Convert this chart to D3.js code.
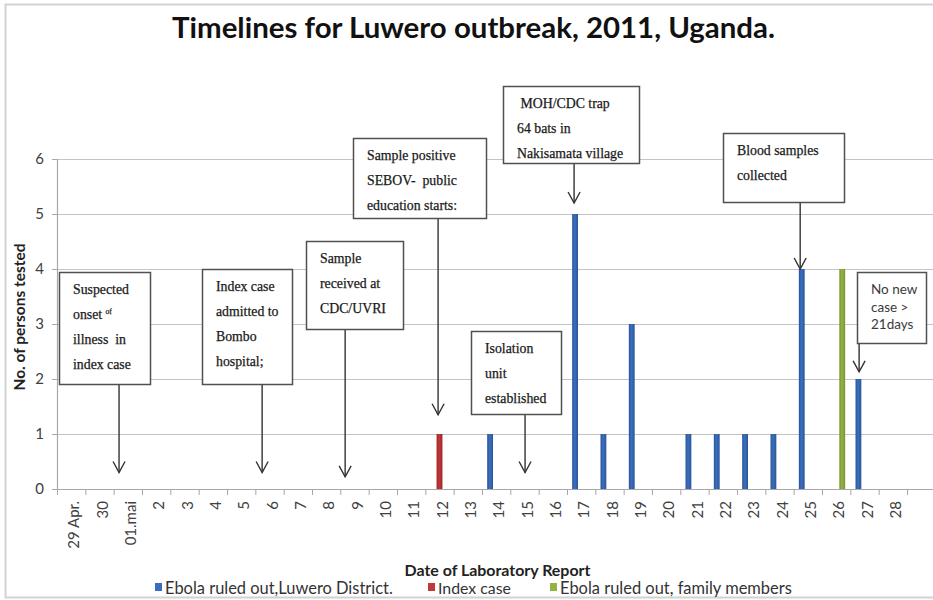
<!DOCTYPE html>
<html>
<head>
<meta charset="utf-8">
<script src="https://cdn.jsdelivr.net/npm/d3@7"></script>
<style>
  body { margin: 0; background: #fff; }
  svg { display: block; }
</style>
</head>
<body>
<svg id="chart" width="933" height="600"></svg>
<script>
// ---- data -------------------------------------------------------------
const dates = ["29 Apr.", "30", "01.mai", "2", "3", "4", "5", "6", "7", "8", "9", "10",
  "11", "12", "13", "14", "15", "16", "17", "18", "19", "20", "21", "22", "23", "24",
  "25", "26", "27", "28"];

// persons tested per laboratory report date
const ruledOutLuwero = [0, 0, 0, 0, 0, 0, 0, 0, 0, 0, 0, 0, 0, 0, 0, 1, 0, 0, 5, 1, 3, 0, 1, 1, 1, 1, 4, 0, 2, 0];
const indexCase      = [0, 0, 0, 0, 0, 0, 0, 0, 0, 0, 0, 0, 0, 1, 0, 0, 0, 0, 0, 0, 0, 0, 0, 0, 0, 0, 0, 0, 0, 0];
const familyMembers  = [0, 0, 0, 0, 0, 0, 0, 0, 0, 0, 0, 0, 0, 0, 0, 0, 0, 0, 0, 0, 0, 0, 0, 0, 0, 0, 0, 4, 0, 0];

const seriesNames = ["Ebola ruled out,Luwero District.", "Index case", "Ebola ruled out, family members"];
const yTicks = [0, 1, 2, 3, 4, 5, 6];

// timeline events: date pointed at, fraction across that date's slot, value the arrow reaches
const events = [
  { date: "01.mai", frac: 0.19, value: 0.3,  lines: ["Suspected", "onset ^of", "illness  in", "index case"] },
  { date: "6",      frac: 0.24, value: 0.3,  lines: ["Index case", "admitted to", "Bombo", "hospital;"] },
  { date: "9",      frac: 0.17, value: 0.22, lines: ["Sample", "received at", "CDC/UVRI"] },
  { date: "12",     frac: 0.45, value: 1.35, lines: ["Sample positive", "SEBOV-  public", "education starts:"] },
  { date: "17",     frac: 0.25, value: 5.2,  lines: [" MOH/CDC trap", "64 bats in", "Nakisamata village"] },
  { date: "15",     frac: 0.52, value: 0.3,  lines: ["Isolation", "unit", "established"] },
  { date: "25",     frac: 0.23, value: 4.0,  lines: ["Blood samples", "collected"] },
  { date: "27",     frac: 0.31, value: 2.13, lines: ["No new", "case >", "21days"] }
];

// ---- layout & styles --------------------------------------------------
const plot = { left: 57, right: 907, top: 159, bottom: 489, gridEnd: 933 };
const colors = ["#3a6fbf", "#c0393b", "#93b443"];
const darkColors = ["#2a5598", "#9e2326", "#769433"];
const calloutBoxes = [
  { x: 59,  y: 272, w: 91,  h: 112 },
  { x: 202, y: 269, w: 90,  h: 115 },
  { x: 306, y: 241, w: 97,  h: 88 },
  { x: 353, y: 138, w: 133, h: 80 },
  { x: 503, y: 86,  w: 136, h: 77 },
  { x: 471, y: 331, w: 90,  h: 83 },
  { x: 723, y: 133, w: 121, h: 69 },
  { x: 857, y: 272, w: 69,  h: 71, sans: true }
];
const sansFont = "Lato, 'Open Sans', 'DejaVu Sans', sans-serif";
const serifFont = "'Liberation Serif', 'DejaVu Serif', serif";

const svg = d3.select("#chart");

// scale text so that it spans a given width
function fitWidth(sel, width) {
  const fs = parseFloat(sel.attr("font-size"));
  const w = sel.node().getComputedTextLength();
  sel.attr("font-size", (fs * width / w).toFixed(2));
  return sel;
}

// outer frame
svg.append("path")
  .attr("d", "M945,4.5 H5.5 V597.5 H945")
  .attr("fill", "none").attr("stroke", "#d2d2d2").attr("stroke-width", 2);

// ---- scales -----------------------------------------------------------
const x = d3.scaleBand().domain(dates).range([plot.left, plot.right]).paddingInner(0).paddingOuter(0);
const bw = x.bandwidth();
const xSub = d3.scaleBand().domain(seriesNames)
  .range([bw / 2 - 9, bw / 2 + 9]).paddingInner(0.04);
const y = d3.scaleLinear().domain([0, 6]).range([plot.bottom, plot.top]);

// gradients for the bar fills
const defs = svg.append("defs");
colors.forEach((c, i) => {
  const g = defs.append("linearGradient").attr("id", "grad" + i)
    .attr("x1", "0").attr("x2", "1").attr("y1", "0").attr("y2", "0");
  g.append("stop").attr("offset", "0").attr("stop-color", darkColors[i]);
  g.append("stop").attr("offset", "0.45").attr("stop-color", c);
  g.append("stop").attr("offset", "1").attr("stop-color", darkColors[i]);
});

// ---- gridlines & axes -------------------------------------------------
svg.append("g").selectAll("line").data(yTicks.filter(d => d > 0)).join("line")
  .attr("x1", plot.left).attr("x2", plot.gridEnd)
  .attr("y1", d => y(d) + 0.5).attr("y2", d => y(d) + 0.5)
  .attr("stroke", "#c4c4c4").attr("stroke-width", 1.2);

const yAxis = svg.append("g").attr("transform", `translate(${plot.left},0)`)
  .call(d3.axisLeft(y).tickValues(yTicks).tickSize(5).tickPadding(8).tickFormat(d3.format("d")));
yAxis.select(".domain").attr("stroke", "#a8a8a8").attr("stroke-width", 1.2);
yAxis.selectAll(".tick line").attr("stroke", "#a8a8a8");
yAxis.selectAll(".tick text").attr("font-family", sansFont).attr("font-size", 15).attr("fill", "#404040");

// x axis baseline across the full width
svg.append("line").attr("x1", plot.left).attr("x2", plot.gridEnd)
  .attr("y1", y(0) + 0.5).attr("y2", y(0) + 0.5)
  .attr("stroke", "#a8a8a8").attr("stroke-width", 1.2);

// tick marks at slot boundaries
const bounds = dates.map(d => x(d)).concat([x(dates[dates.length - 1]) + bw]);
svg.append("g").selectAll("line").data(bounds).join("line")
  .attr("x1", d => d + 0.5).attr("x2", d => d + 0.5)
  .attr("y1", y(0)).attr("y2", y(0) + 6)
  .attr("stroke", "#a8a8a8");

// rotated date labels
svg.append("g").selectAll("text").data(dates).join("text")
  .attr("transform", d => `translate(${x(d) + bw / 2 + 3},${y(0) + 12}) rotate(-90)`)
  .attr("text-anchor", "end").attr("dy", "0.35em")
  .attr("font-family", sansFont).attr("font-size", 15).attr("fill", "#404040")
  .text(d => d);

// ---- bars -------------------------------------------------------------
const seriesValues = [ruledOutLuwero, indexCase, familyMembers];
seriesValues.forEach((vals, si) => {
  svg.append("g").selectAll("rect")
    .data(dates.map((d, i) => ({ date: d, value: vals[i] })).filter(d => d.value > 0))
    .join("rect")
    .attr("x", d => x(d.date) + xSub(seriesNames[si]))
    .attr("width", xSub.bandwidth())
    .attr("y", d => y(d.value))
    .attr("height", d => y(0) - y(d.value))
    .attr("fill", `url(#grad${si})`);
});

// ---- callouts ---------------------------------------------------------
events.forEach((ev, i) => {
  const b = calloutBoxes[i];
  const g = svg.append("g");
  const ax = x(ev.date) + ev.frac * bw;
  const tipY = y(ev.value);
  g.append("line").attr("x1", ax).attr("x2", ax).attr("y1", b.y + b.h).attr("y2", tipY)
    .attr("stroke", "#333").attr("stroke-width", 1.4);
  g.append("path")
    .attr("d", `M${ax - 6},${tipY - 11} L${ax},${tipY} L${ax + 6},${tipY - 11}`)
    .attr("fill", "none").attr("stroke", "#333").attr("stroke-width", 1.4);
  g.append("rect").attr("x", b.x + 0.5).attr("y", b.y + 0.5).attr("width", b.w).attr("height", b.h)
    .attr("fill", "#fff").attr("stroke", "#505050").attr("stroke-width", 1.5);
  const gap = b.sans ? 17.5 : 25;
  const t = g.append("text")
    .attr("font-family", b.sans ? sansFont : serifFont)
    .attr("font-size", b.sans ? 13.5 : 13.8)
    .attr("fill", b.sans ? "#3a3a3a" : "#1a1a1a")
    .attr("stroke", b.sans ? "none" : "#1a1a1a")
    .attr("stroke-width", 0.25)
    .attr("xml:space", "preserve");
  ev.lines.forEach((ln, li) => {
    const parts = ln.split("^");
    t.append("tspan").attr("x", b.x + 14).attr("y", b.y + 22 + li * gap).text(parts[0]);
    if (parts.length > 1) {
      t.append("tspan").attr("font-size", 7.5).attr("dy", -5).text(parts[1]);
    }
  });
});

// ---- titles -----------------------------------------------------------
const title = svg.append("text").attr("x", 473.5).attr("y", 38)
  .attr("text-anchor", "middle").attr("font-family", sansFont).attr("font-weight", 700)
  .attr("font-size", 27).attr("fill", "#111")
  .text("Timelines for Luwero outbreak, 2011, Uganda.");
fitWidth(title, 603);

const yTitle = svg.append("text")
  .attr("transform", "translate(25,317) rotate(-90)")
  .attr("text-anchor", "middle").attr("font-family", sansFont).attr("font-weight", 700)
  .attr("font-size", 14).attr("fill", "#222")
  .text("No. of persons tested");
fitWidth(yTitle, 147);

const xTitle = svg.append("text").attr("x", 497.5).attr("y", 576)
  .attr("text-anchor", "middle").attr("font-family", sansFont).attr("font-weight", 700)
  .attr("font-size", 14).attr("fill", "#222")
  .text("Date of Laboratory Report");
fitWidth(xTitle, 186);

// ---- legend -----------------------------------------------------------
const legendX = [155, 428, 550];
const legendTextW = [228, 73, 232];
seriesNames.forEach((name, i) => {
  svg.append("rect").attr("x", legendX[i]).attr("y", 583).attr("width", 7).attr("height", 8)
    .attr("fill", colors[i]);
  const lt = svg.append("text").attr("x", legendX[i] + 10).attr("y", 594)
    .attr("font-family", sansFont).attr("font-size", 16).attr("fill", "#333").text(name);
  fitWidth(lt, legendTextW[i]);
});
</script>
</body>
</html>
